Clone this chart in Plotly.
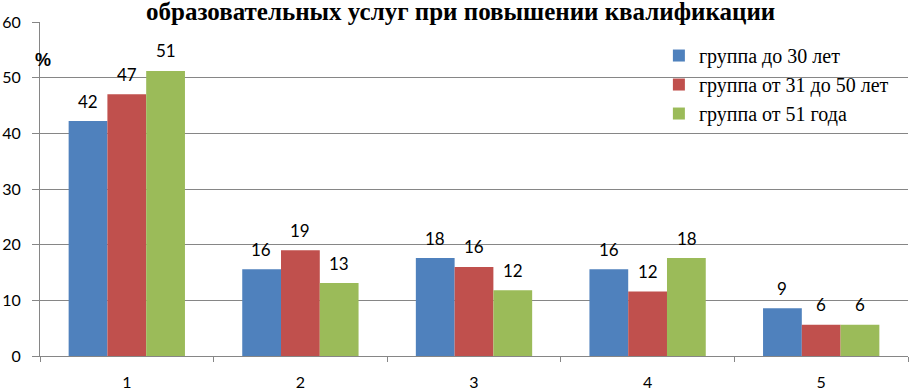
import plotly.graph_objects as go

categories = ["1", "2", "3", "4", "5"]
series_names = ["группа до 30 лет", "группа от 31 до 50 лет", "группа от 51 года"]
values_under30 = [42.2, 15.6, 17.6, 15.6, 8.6]
values_31to50 = [47.0, 19.0, 16.0, 11.6, 5.6]
values_over51 = [51.2, 13.1, 11.8, 17.6, 5.6]
colors = ["#4F81BD", "#C0504D", "#9BBB59"]
title_text = "образовательных услуг при повышении квалификации"
y_ticks = [0, 10, 20, 30, 40, 50, 60]

all_series = [values_under30, values_31to50, values_over51]

fig = go.Figure()
for name, vals, col in zip(series_names, all_series, colors):
    fig.add_trace(go.Bar(x=categories, y=vals, name=name, marker=dict(color=col, line=dict(width=0))))

num_font = "Lato, Liberation Sans, sans-serif"
serif = "Liberation Serif, Times New Roman, serif"

annotations = []
bar_px = 39
for i, vals in enumerate(all_series):
    for ci, v in enumerate(vals):
        annotations.append(dict(
            x=ci, y=v, xref="x", yref="y", text=str(int(round(v))),
            showarrow=False, xshift=(i - 1) * bar_px, yshift=20, yanchor="middle",
            font=dict(family=num_font, size=17, color="#000000")))

annotations.append(dict(x=0.484, y=1.031, xref="paper", yref="paper", text="<b>" + title_text + "</b>",
                        showarrow=False, xanchor="center", yanchor="middle",
                        font=dict(family=serif, size=25, color="#000000")))
annotations.append(dict(x=0.0035, y=0.886, xref="paper", yref="paper", text="<b>%</b>",
                        showarrow=False, xanchor="center", yanchor="middle",
                        font=dict(family="Liberation Sans, sans-serif", size=18, color="#000000")))

fig.update_layout(
    width=923, height=390,
    margin=dict(l=40, r=15, t=22, b=34, autoexpand=False),
    paper_bgcolor="white", plot_bgcolor="white",
    barmode="group", bargap=0.33, bargroupgap=0,
    showlegend=True,
    legend=dict(x=0.713, y=0.958, xanchor="left", yanchor="top", bgcolor="rgba(0,0,0,0)",
                font=dict(family=serif, size=20, color="#000000"), tracegroupgap=0,
                itemwidth=30),
    annotations=annotations,
    xaxis=dict(type="category", showline=True, linecolor="#868686", linewidth=1,
               ticks="outside", tickson="boundaries", ticklen=5, tickcolor="#868686",
               tickfont=dict(family=num_font, size=16, color="#000000"),
               showgrid=False, ticklabelstandoff=12, automargin=False),
    yaxis=dict(range=[0, 60], tickvals=y_ticks, showline=True, linecolor="#868686", linewidth=1,
               ticks="outside", ticklen=7, tickcolor="#868686",
               gridcolor="#868686", gridwidth=1, zeroline=False,
               tickfont=dict(family=num_font, size=16, color="#000000"),
               ticklabelstandoff=8, automargin=False),
)

fig.write_html("out.html", config={"displayModeBar": False},
               post_script="document.body.style.margin='0';document.body.style.overflow='hidden';")
